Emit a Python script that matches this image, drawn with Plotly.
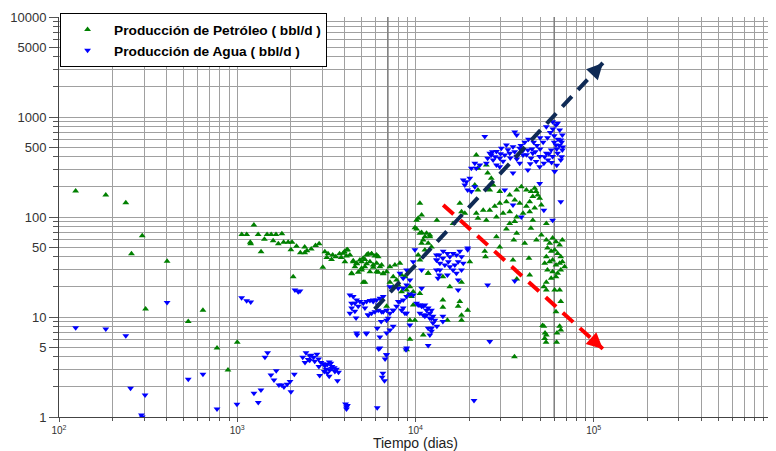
import math
import plotly.graph_objects as go

# Producción de Petróleo (bbl/d) vs tiempo (dias)
oil_x = [124, 183, 237, 293, 255, 404, 306, 642, 531, 770, 1000, 887,
         1240, 1060, 1130, 1310, 1470, 1550, 1650, 1780, 1183, 1190, 1420, 1590, 1700, 1820, 1930, 2030,
         1360, 2000, 2150, 2260, 2390, 2460, 2600, 2750, 2880, 2390, 3100, 3230, 3430, 3570, 3750, 3990,
         4160, 3180, 3380, 3830, 4100, 3020, 4474, 4674, 4985, 5202, 5428, 5673, 6051, 5318, 4771, 4382,
         4985, 5790, 6177, 6589, 5202, 6452, 2060,
         3930, 4108, 4287, 4018, 4474, 4674, 4877, 5089, 5318, 5673, 5920, 6177, 5551, 5790, 6051, 6314,
         5202, 4985, 4573, 4382, 5089, 5551, 6589, 6885, 7185, 7664, 8174, 7499, 7834, 8356, 8719, 7185,
         7499, 7996, 8356, 8916, 9303, 9707, 9100, 9508, 6885, 10585, 11290, 12040, 10820, 10354, 11780,
         9303, 8916, 9707, 6051,
         11780, 14240, 15580, 18120, 20170, 19620, 17730, 17350, 14240, 14240, 15100, 18120, 18120, 9922,
         9303, 11050, 10585,
         28450, 24470, 29690, 35230, 43720, 47700, 50800, 44400, 33780, 36950, 32350, 35600, 40990, 43300,
         24700, 37000, 35900,
         54200, 56580, 58800, 61400, 64370, 66660, 55000, 57700, 60350, 62700, 65300, 54200, 56580, 58800,
         61400, 64370, 66660, 53050, 55000, 58800, 62700, 65300, 68660, 57700, 61400, 54200, 52500, 54200,
         60350, 64370, 65300, 61400, 52500, 54200, 53050, 65300, 64370, 51600, 53300, 54000, 62200, 61900,
         21930, 24970, 25390, 22400, 26600, 21510, 22400, 27260, 26100, 29690, 33780, 36950, 39250, 41900,
         44500, 46630, 47500, 48500, 49740, 45500, 43720, 41900, 38430, 36030, 32350, 29690, 27840, 26100,
         23980, 21930, 22400, 24970, 28450, 31000, 33780, 36950, 40120, 43720, 46630, 50800, 18910, 18120,
         10585, 10820, 10140, 9922, 13180, 16240, 36030, 45500, 54200, 17730,
         10140, 10354, 10820, 11530, 12040, 11050, 11780, 12290, 11290, 10585]
oil_y = [182, 166, 139, 65, 43, 36, 12, 11.7, 9, 4.9, 5.6, 2.95,
         83, 67, 67, 67, 67, 67, 67, 68, 56, 54, 60, 58, 54, 56, 56, 56,
         45, 47, 51, 44, 50, 46, 48, 52, 54, 44, 45, 43, 41.7, 40, 43, 45,
         47, 39.4, 37.5, 39.4, 40.7, 31.4, 36.6, 34.1, 35.7, 37.5, 43, 43, 41.7, 34.1, 28, 27.1,
         29.5, 31.4, 28, 27.1, 22.3, 33.1, 25.3,
         43.4, 46.8, 41.7, 35.7, 35.7, 34.4, 37.2, 38.6, 41.7, 42.7, 40.7, 40.1, 35.7, 33.1, 34.4, 31.8,
         31.8, 30.7, 31.8, 27.4, 22.3, 28.4, 27.4, 28.4, 31.8, 33.1, 34.4, 25.3, 23.4, 26.3, 25.3, 22.3,
         20.1, 20.9, 17.9, 18.6, 20.1, 17.9, 16.6, 16.0, 12.8, 68.7, 63.5, 66.1, 54.6, 41.7, 27.4,
         9.3, 4.7, 13.2, 28.4,
         27.4, 25.3, 20.1, 22.3, 35.7, 11.7, 14.3, 12.8, 14.8, 12.5, 9.3, 9.3, 10.4, 9.3,
         6.0, 6.6, 17.2,
         63.5, 45.4, 50, 37.2, 26.3, 59, 66, 77, 86, 68.7, 76, 59, 54.6, 38.6,
         40, 24, 4.0,
         59, 54.6, 61.5, 56.5, 52.5, 59, 49, 45.4, 46.8, 43.2, 40.1, 40.1, 35.7, 37.2,
         33.1, 34.4, 35.7, 34.4, 29.5, 28.4, 27.4, 29.5, 31.8, 24.4, 25.3, 22.3, 20.1, 18.6,
         18.6, 18.6, 14.3, 11.3, 8.1, 6.6, 6.1, 7.4, 8.1, 8.2, 6.9, 5.6, 6.9, 5.6,
         417, 331, 275, 307, 244, 209, 186, 209, 186, 180, 166, 186, 201, 186,
         180, 194, 180, 166, 154, 160, 142, 128, 137, 148, 142, 137, 128, 117,
         117, 109, 97, 93, 100, 109, 113, 100, 109, 113, 123, 132, 109, 113,
         137, 105, 93, 78, 93, 86, 90, 93, 86, 137,
         76, 97, 70, 68.7, 63.5, 59, 54.6, 50, 46.8, 37.2]

# Producción de Agua (bbl/d) vs tiempo (dias)
water_x = [124, 183, 237, 404, 252, 304, 290, 293, 531, 642, 770, 996,
           1058, 1129, 1190, 1241, 1312, 1358, 1430, 1480, 1545, 1607, 1655, 1713, 1775, 1828, 1907, 1977,
           2000, 2090, 2106, 2198, 2248,
           2330, 2430, 2550, 2600, 2680, 2800, 2860, 2550, 2500, 2400, 2720, 2870, 2950, 3040, 3100, 3200,
           3280, 3350, 3400, 3380, 3500, 3600, 3700, 3530, 3300, 3150, 3080, 3200, 3280, 2900, 3650,
           4050, 4100, 4150, 4100,
           4700, 5300, 6100, 6420, 6220, 6860, 6750, 6560, 6500, 6700, 6100, 8850,
           4287, 4474, 4674, 4877, 5089, 5318, 5551, 5790, 6051, 6314, 6589, 4573, 4382, 4771, 5202, 5428,
           5673, 5920, 6177, 6452, 6885, 7185, 7499, 7834, 8174, 8530, 8916, 9303, 9707, 10140, 10585,
           11050, 11530, 12040, 11290, 12290, 10585, 8916, 8356, 7030, 7499, 7185, 6885, 6314, 4674, 5318,
           4287, 6314, 6885, 8916, 11780, 12290, 12540, 11780, 7185, 7996, 8530, 8916, 9303, 8530, 8174,
           8916, 10820, 13100, 13370, 13100, 13100,
           4380, 4570, 4640, 5430, 5790, 6180, 6590, 6885, 7500, 8000, 8530, 8720,
           13580, 14300, 15100, 15580, 16240, 16960, 17730, 18120, 17350, 16620, 15580, 14610, 13700, 13180,
           14240, 15290, 16240, 16960, 18120, 18530, 13700, 15100, 17350, 19620, 13580, 17350,
           10354, 10820, 11290, 11780, 12290, 12540, 12840, 12040, 11530, 11050, 13180, 12290, 12040, 14240,
           14240, 9303, 10820, 26100, 25390, 36030, 19620, 9922, 9707, 21300,
           24470, 36030, 36950, 54200, 58800, 61400, 64370, 62700, 66660, 65300, 61400, 57700, 54200, 49740,
           45500, 42700, 38430, 35230, 32350, 30300, 28450, 26600, 25390, 27260, 29690, 31670, 33780, 36950,
           40120, 44500, 47500, 52500, 55400, 58800, 62700, 66660, 65300, 60350, 49740, 42700, 35230, 28450,
           24970, 22940, 21510, 20570, 21930, 26100, 29690, 38430, 49740, 65300, 58800, 52500, 39250, 35230,
           31670, 20570, 19290, 18530, 18910, 20170, 21510, 19620,
           27000, 30000, 33000, 36000, 39000, 41000, 43000, 46000, 48000, 50000, 52000, 55000, 57000, 59000,
           60000, 63000, 64000, 66000, 67000, 62000, 56000, 53000, 45000, 40000, 37000, 34000, 31000, 28000,
           44000, 58000, 62000, 66000, 60000, 50000, 47000, 42000]
water_y = [7.8, 7.6, 6.5, 14.0, 1.94, 1.66, 1.05, 1.0, 2.38, 2.67, 1.2, 1.34,
           15.6, 14.5, 14.1, 1.73, 1.4, 1.86, 3.95, 4.4, 2.63, 2.34, 2.9, 2.09, 2.09, 2.0, 2.12, 2.26,
           1.79, 2.67, 18.6, 17.9, 18.2,
           3.95, 4.4, 4.1, 4.15, 3.95, 4.25, 3.8, 3.7, 3.75, 3.5, 3.6, 3.2, 3.5, 3.4, 3.25, 3.35,
           3.55, 3.45, 3.2, 3.05, 3.1, 3.0, 2.8, 2.85, 2.95, 3.0, 2.85, 2.75, 2.55, 2.6, 2.3,
           1.35, 1.2, 1.3, 1.26,
           6.6, 6.8, 7.7, 9.0, 4.8, 4.2, 3.8, 2.74, 2.5, 2.3, 1.24, 4.7,
           16.6, 16.0, 14.8, 14.3, 13.7, 14.3, 14.6, 14.3, 14.8, 15.4, 16.0, 13.7, 12.3, 12.8, 12.3, 10.5,
           10.9, 11.3, 11.7, 11.3, 11.7, 10.9, 11.7, 12.8, 14.3, 14.8, 16.0, 17.0, 16.6, 13.7, 13.2,
           12.8, 11.7, 10.9, 10.2, 9.7, 10.9, 10.9, 11.7, 9.7, 8.1, 7.4, 6.9, 6.3, 6.9, 6.9,
           10.9, 4.9, 4.2, 4.9, 5.2, 7.2, 8.7, 7.7, 20.1, 19.4, 19.4, 20.9, 23.4, 24.4, 27.4,
           29.5, 29.5, 29.5, 24.4, 37.2, 41.7,
           13.7, 11.4, 9.8, 10.5, 14.8, 13.2, 11.3, 9.3, 11.7, 14.3, 12.3, 10.9,
           41.7, 45.4, 43.2, 40.1, 43.2, 41.7, 45.4, 40.1, 35.7, 33.1, 31.8, 33.1, 34.4, 37.2,
           38.6, 35.7, 29.5, 27.4, 29.5, 34.4, 29.5, 26.3, 23.4, 47, 26.3, 18.6,
           13.2, 12.8, 13.2, 12.3, 11.7, 10.2, 9.3, 9.7, 10.5, 10.5, 8.1, 7.7, 6.6, 10.2,
           9.0, 8.3, 19.4, 5.7, 20.9, 22.9, 49, 47, 35.7, 1.46,
           638, 707, 661, 798, 898, 832, 741, 865, 661, 589, 525, 468, 434, 403,
           434, 468, 487, 505, 525, 487, 451, 417, 386, 372, 386, 417, 434, 403,
           417, 386, 358, 345, 372, 403, 434, 468, 372, 285, 318, 295, 275, 331,
           345, 331, 345, 307, 307, 434, 318, 345, 216, 142, 93, 117, 100, 132,
           186, 180, 225, 234, 209, 244, 201, 186,
           450, 430, 470, 450, 520, 560, 600, 560, 520, 480, 560, 620, 700, 760,
           650, 600, 520, 560, 500, 480, 430, 400, 480, 460, 380, 390, 360, 400,
           340, 350, 330, 400, 560, 620, 450, 420]

# flechas de tendencia (inicio, punta)
trend_water_x = [5900, 112500]
trend_water_y = [12.0, 3470]
trend_oil_x = [14300, 112500]
trend_oil_y = [132, 4.8]

# lineas verticales de referencia
ref_lines_x = [7000, 60000]

x_major = [1e2, 1e3, 1e4, 1e5, 1e6]
x_major_text = ["10<sup>2</sup>", "10<sup>3</sup>", "10<sup>4</sup>", "10<sup>5</sup>", "10<sup>6</sup>"]
y_major = [1, 5, 10, 50, 100, 500, 1000, 5000, 10000]
y_major_text = ["1", "5", "10", "50", "100", "500", "1000", "5000", "10000"]

x_minor = [d * 10 ** e for e in range(2, 6) for d in range(2, 10)]
y_minor = [d * 10 ** e for e in range(0, 4) for d in (2, 3, 4, 6, 7, 8, 9)]

GRID = "#a0a0a0"
NAVY = "#0f2a55"
RED = "#ff0000"

fig = go.Figure()

for xv in ref_lines_x:
    fig.add_trace(go.Scatter(
        x=[xv, xv], y=[1, 10000], mode="lines",
        line=dict(color="#808080", width=1.5),
        showlegend=False, hoverinfo="skip",
    ))

fig.add_trace(go.Scatter(
    x=oil_x, y=oil_y, mode="markers",
    name="Producción de Petróleo ( bbl/d )",
    marker=dict(symbol="triangle-up", size=6, color="#008000"),
))
fig.add_trace(go.Scatter(
    x=water_x, y=water_y, mode="markers",
    name="Producción de Agua ( bbl/d )",
    marker=dict(symbol="triangle-down", size=6, color="#0000ff"),
))

for tx, ty, color in [(trend_water_x, trend_water_y, NAVY), (trend_oil_x, trend_oil_y, RED)]:
    fig.add_trace(go.Scatter(
        x=tx, y=ty, mode="lines",
        line=dict(color=color, width=4, dash="14px,9px"),
        showlegend=False, hoverinfo="skip",
    ))
    # punta de flecha
    lx0, ly0 = math.log10(tx[0]), math.log10(ty[0])
    lx1, ly1 = math.log10(tx[1]), math.log10(ty[1])
    f = 0.05
    fig.add_annotation(
        x=lx1, y=ly1, ax=lx1 - (lx1 - lx0) * f, ay=ly1 - (ly1 - ly0) * f,
        xref="x", yref="y", axref="x", ayref="y",
        text="", showarrow=True, arrowhead=2, arrowsize=0.8, arrowwidth=4,
        arrowcolor=color,
    )

# la pagina tiene 8 px de margen en el body: se descuenta aqui
fig.update_layout(
    width=768, height=443,
    margin=dict(l=51, r=4, t=9, b=34),
    paper_bgcolor="white",
    plot_bgcolor="white",
    font=dict(family="Arial, Liberation Sans, sans-serif", color="#333333"),
    showlegend=True,
    legend=dict(
        x=0.0015, y=1.01, xanchor="left", yanchor="top",
        bgcolor="white", bordercolor="black", borderwidth=1,
        font=dict(size=13.7, color="black", family="Arial, Liberation Sans, sans-serif", weight="bold"),
        itemwidth=43, tracegroupgap=0,
    ),
)
fig.update_xaxes(
    type="log", range=[2, 6], automargin=False,
    tickmode="array", tickvals=x_major, ticktext=x_major_text,
    tickfont=dict(size=10, color="#333333"),
    ticks="outside", ticklen=4, tickcolor="#555555",
    showgrid=True, gridcolor=GRID, gridwidth=1,
    minor=dict(tickmode="array", tickvals=x_minor, showgrid=True, gridcolor=GRID,
               ticks="outside", ticklen=3, tickcolor="#555555"),
    showline=True, linecolor="#444444", linewidth=1,
    zeroline=False,
    title=dict(text="Tiempo (dias)", font=dict(size=14, color="#222222"), standoff=7),
)
fig.update_yaxes(
    type="log", range=[0, 4], automargin=False,
    tickmode="array", tickvals=y_major, ticktext=y_major_text,
    tickfont=dict(size=13, color="#333333"),
    ticks="outside", ticklen=9, tickcolor="#555555",
    showgrid=True, gridcolor=GRID, gridwidth=1,
    minor=dict(tickmode="array", tickvals=y_minor, showgrid=True, gridcolor=GRID,
               ticks="outside", ticklen=5, tickcolor="#555555"),
    showline=True, linecolor="#444444", linewidth=1,
    zeroline=False,
)

fig.write_html("out.html")
